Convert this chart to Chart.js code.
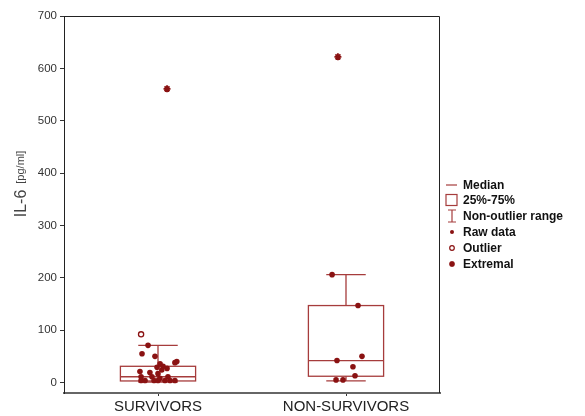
<!DOCTYPE html>
<html>
<head>
<meta charset="utf-8">
<script src="https://cdn.jsdelivr.net/npm/chart.js@4/dist/chart.umd.min.js"></script>
<style>
html, body { margin: 0; padding: 0; background: #fff; }
#wrap { width: 585px; height: 416px; }
</style>
</head>
<body>
<div id="wrap"><canvas id="il6Chart"></canvas></div>
<script>
// IL-6 box plot - survivors vs non-survivors

const categories = ['SURVIVORS', 'NON-SURVIVORS'];
const yTicks = [0, 100, 200, 300, 400, 500, 600, 700];

// box statistics per group
const medians = [11, 42];
const q1 = [3, 12];
const q3 = [31, 147];
const whiskerLow = [1, 3];
const whiskerHigh = [71, 206];

// raw data (value + horizontal jitter)
const survivorsRaw = [71, 55, 50, 36, 38, 29, 27, 31, 21, 17, 19, 11, 11, 11, 4, 4, 4, 4, 4, 4, 4, 24, 8, 40];
const survivorsJitter = [-0.053, -0.085, -0.016, 0.011, 0.09, -0.005, 0.048, 0.027, -0.096, 0, -0.043, -0.09, -0.032, 0.053, -0.09, -0.069, -0.021, 0, 0.037, 0.064, 0.09, 0.02, 0.01, 0.1];
const nonSurvivorsRaw = [206, 147, 42, 50, 30, 13, 5, 5];
const nonSurvivorsJitter = [-0.074, 0.064, -0.048, 0.085, 0.037, 0.048, -0.053, -0.016];

const outlierValues = [92];
const outlierGroup = [0];
const outlierJitter = [-0.09];

const extremalValues = [561, 622];
const extremalGroup = [0, 1];
const extremalJitter = [0.048, -0.043];

const boxColor = '#a63c3c';
const pointColor = '#8a1212';

function toPoints(values, group, jitter) {
    return values.map((v, i) => ({
        x: (Array.isArray(group) ? group[i] : group) + jitter[i],
        y: v
    }));
}

function drawStar(ctx, x, y, r) {
    ctx.beginPath();
    for (let k = 0; k < 4; k++) {
        const a = k * Math.PI / 4;
        ctx.moveTo(x - Math.cos(a) * r, y - Math.sin(a) * r);
        ctx.lineTo(x + Math.cos(a) * r, y + Math.sin(a) * r);
    }
    ctx.stroke();
}

const boxPlugin = {
    id: 'boxPlugin',
    beforeDatasetsDraw(chart) {
        const { ctx, scales: { x, y } } = chart;
        ctx.save();
        ctx.strokeStyle = boxColor;
        ctx.lineWidth = 1.3;
        categories.forEach((c, i) => {
            const cx = x.getPixelForValue(i);
            const half = x.getPixelForValue(i + 0.2) - cx;
            const cap = x.getPixelForValue(i + 0.105) - cx;
            const top = y.getPixelForValue(q3[i]);
            const bot = y.getPixelForValue(q1[i]);
            const med = y.getPixelForValue(medians[i]);
            const wHi = y.getPixelForValue(whiskerHigh[i]);
            const wLo = y.getPixelForValue(whiskerLow[i]);
            ctx.beginPath();
            // whiskers
            ctx.moveTo(cx, top); ctx.lineTo(cx, wHi);
            ctx.moveTo(cx - cap, wHi); ctx.lineTo(cx + cap, wHi);
            ctx.moveTo(cx, bot); ctx.lineTo(cx, wLo);
            ctx.moveTo(cx - cap, wLo); ctx.lineTo(cx + cap, wLo);
            // median
            ctx.moveTo(cx - half, med); ctx.lineTo(cx + half, med);
            ctx.stroke();
            ctx.strokeRect(cx - half, top, half * 2, bot - top);
        });
        ctx.restore();
    },
    afterDraw(chart) {
        const { ctx, chartArea: a } = chart;
        ctx.save();
        // frame
        ctx.strokeStyle = '#222';
        ctx.lineWidth = 1;
        ctx.beginPath();
        ctx.moveTo(a.left + 0.5, a.bottom);
        ctx.lineTo(a.left + 0.5, a.top + 0.5);
        ctx.lineTo(a.right - 0.5, a.top + 0.5);
        ctx.lineTo(a.right - 0.5, a.bottom);
        ctx.stroke();

        // y title with small unit
        ctx.translate(22, 184);
        ctx.rotate(-Math.PI / 2);
        ctx.fillStyle = '#444';
        ctx.textBaseline = 'middle';
        ctx.font = '16px Arial, "Liberation Sans", sans-serif';
        const main = 'IL-6';
        const mw = ctx.measureText(main).width;
        ctx.font = '11px Arial, "Liberation Sans", sans-serif';
        const unit = '[pg/ml]';
        const uw = ctx.measureText(unit).width;
        const gap = 6;
        const start = -(mw + gap + uw) / 2;
        ctx.font = '16px Arial, "Liberation Sans", sans-serif';
        ctx.textAlign = 'left';
        ctx.fillText(main, start, 0);
        ctx.font = '11px Arial, "Liberation Sans", sans-serif';
        ctx.fillText(unit, start + mw + gap, -1);
        ctx.restore();

        // legend
        ctx.save();
        const lx = 452, tx = 463;
        const rows = [185, 200, 216, 232, 248, 264];
        const labels = ['Median', '25%-75%', 'Non-outlier range', 'Raw data', 'Outlier', 'Extremal'];
        ctx.font = 'bold 12px Arial, "Liberation Sans", sans-serif';
        ctx.fillStyle = '#111';
        ctx.textBaseline = 'middle';
        ctx.textAlign = 'left';
        labels.forEach((t, i) => ctx.fillText(t, tx, rows[i] + 1));
        ctx.strokeStyle = boxColor;
        ctx.lineWidth = 1.2;
        ctx.beginPath();
        ctx.moveTo(lx - 6, rows[0]); ctx.lineTo(lx + 5, rows[0]);
        ctx.stroke();
        ctx.strokeRect(lx - 6, rows[1] - 5.5, 11, 11);
        ctx.beginPath();
        ctx.moveTo(lx, rows[2] - 6); ctx.lineTo(lx, rows[2] + 6);
        ctx.moveTo(lx - 4, rows[2] - 6); ctx.lineTo(lx + 4, rows[2] - 6);
        ctx.moveTo(lx - 4, rows[2] + 6); ctx.lineTo(lx + 4, rows[2] + 6);
        ctx.stroke();
        ctx.fillStyle = pointColor;
        ctx.beginPath();
        ctx.arc(lx, rows[3], 2, 0, Math.PI * 2);
        ctx.fill();
        ctx.strokeStyle = pointColor;
        ctx.beginPath();
        ctx.arc(lx, rows[4], 2.3, 0, Math.PI * 2);
        ctx.stroke();
        ctx.lineWidth = 1.6;
        drawStar(ctx, lx, rows[5], 3);
        ctx.restore();
    }
};

function initChart() {
    const ctx = document.getElementById('il6Chart').getContext('2d');

    new Chart(ctx, {
        type: 'scatter',
        data: {
            datasets: [
                {
                    label: 'Raw data',
                    data: toPoints(survivorsRaw, 0, survivorsJitter)
                        .concat(toPoints(nonSurvivorsRaw, 1, nonSurvivorsJitter)),
                    pointStyle: 'circle',
                    pointRadius: 2.8,
                    backgroundColor: pointColor,
                    borderColor: pointColor,
                    borderWidth: 0
                },
                {
                    label: 'Outlier',
                    data: toPoints(outlierValues, outlierGroup, outlierJitter),
                    pointStyle: 'circle',
                    pointRadius: 2.6,
                    backgroundColor: '#fff',
                    borderColor: pointColor,
                    borderWidth: 1.3
                },
                {
                    label: 'Extremal',
                    data: toPoints(extremalValues, extremalGroup, extremalJitter),
                    pointStyle: 'star',
                    pointRadius: 3.5,
                    backgroundColor: pointColor,
                    borderColor: pointColor,
                    borderWidth: 1.8
                }
            ]
        },
        options: {
            responsive: true,
            maintainAspectRatio: false,
            animation: false,
            layout: { padding: { top: 16, right: 145, left: 0, bottom: 0 } },
            plugins: {
                legend: { display: false },
                tooltip: { enabled: false }
            },
            scales: {
                x: {
                    type: 'linear',
                    min: -0.5,
                    max: 1.5,
                    afterBuildTicks: (scale) => {
                        scale.ticks = categories.map((c, i) => ({ value: i }));
                    },
                    afterFit: (scale) => { scale.height = 23; },
                    ticks: {
                        callback: (v) => categories[v] || '',
                        font: { family: 'Arial, "Liberation Sans", sans-serif', size: 15 },
                        color: '#222',
                        padding: 2,
                        maxRotation: 0,
                        autoSkip: false
                    },
                    grid: { drawOnChartArea: false, tickLength: 3, color: '#333' },
                    border: { display: true, color: '#666', width: 2 }
                },
                y: {
                    min: -20,
                    max: 700,
                    afterBuildTicks: (scale) => {
                        scale.ticks = yTicks.map(v => ({ value: v }));
                    },
                    afterFit: (scale) => { scale.width = 64; },
                    ticks: {
                        font: { family: 'Arial, "Liberation Sans", sans-serif', size: 11.5 },
                        color: '#333',
                        padding: 3
                    },
                    grid: { drawOnChartArea: false, tickLength: 4, color: '#333' },
                    border: { display: true, color: '#222', width: 1 }
                }
            }
        },
        plugins: [boxPlugin]
    });
}

if (document.readyState === 'loading') {
    document.addEventListener('DOMContentLoaded', initChart);
} else {
    initChart();
}
</script>
</body>
</html>
